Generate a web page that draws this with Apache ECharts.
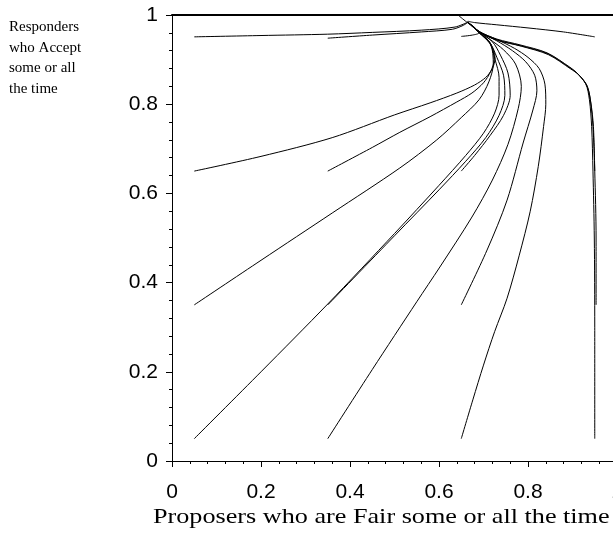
<!DOCTYPE html>
<html>
<head>
  <meta charset="utf-8">
  <title>phase</title>
  <script type="text/javascript" src="https://cdn.jsdelivr.net/npm/echarts@6/dist/echarts.min.js"></script>
  <style>
    body { margin: 0; background: #fff; }
  </style>
</head>
<body>
<div id="chartmain" style="width:613px; height:542px;"></div>
<script type="text/javascript">
  // trajectories, named by start point [fair, accept]
  var fromA05_05 = [[0.05,0.05],[0.2,0.2],[0.35,0.352],[0.5,0.51],[0.6,0.618],[0.66,0.685],[0.7,0.735],[0.725,0.78],[0.735,0.82],[0.735,0.86],[0.726,0.9],[0.715,0.935],[0.69,0.96],[0.665,0.984]];
  var fromA05_35 = [[0.05,0.35],[0.2,0.45],[0.36,0.556],[0.512,0.657],[0.595,0.72],[0.65,0.77],[0.69,0.81],[0.712,0.85],[0.722,0.89],[0.716,0.935],[0.69,0.961],[0.665,0.984]];
  var fromA05_65 = [[0.05,0.65],[0.2,0.683],[0.36,0.725],[0.5,0.776],[0.58,0.803],[0.64,0.825],[0.68,0.843],[0.705,0.86],[0.72,0.88],[0.726,0.903],[0.715,0.937],[0.69,0.961],[0.665,0.984]];
  var fromA05_95 = [[0.05,0.951],[0.2,0.954],[0.35,0.957],[0.45,0.961],[0.56,0.966],[0.636,0.973],[0.665,0.984]];

  var fromA35_05 = [[0.35,0.05],[0.45,0.205],[0.55,0.357],[0.602,0.435],[0.674,0.547],[0.72,0.63],[0.755,0.71],[0.778,0.79],[0.785,0.84],[0.772,0.89],[0.745,0.922],[0.715,0.945],[0.69,0.963],[0.665,0.984]];
  var fromA35_35 = [[0.35,0.35],[0.5,0.505],[0.6,0.608],[0.66,0.672],[0.705,0.725],[0.735,0.775],[0.748,0.82],[0.745,0.865],[0.73,0.905],[0.715,0.937],[0.69,0.961],[0.665,0.984]];
  var fromA35_65 = [[0.35,0.65],[0.45,0.703],[0.512,0.737],[0.58,0.772],[0.64,0.805],[0.674,0.825],[0.7,0.848],[0.716,0.873],[0.724,0.9],[0.715,0.937],[0.69,0.961],[0.665,0.984]];
  var fromA35_95 = [[0.35,0.948],[0.45,0.955],[0.56,0.962],[0.63,0.968],[0.655,0.977],[0.665,0.984]];

  var fromA65_05 = [[0.65,0.05],[0.676,0.137],[0.7,0.215],[0.725,0.29],[0.753,0.365],[0.78,0.46],[0.805,0.56],[0.823,0.66],[0.835,0.75],[0.84,0.8],[0.838,0.845],[0.825,0.88],[0.8,0.905],[0.77,0.925],[0.73,0.945],[0.69,0.963],[0.665,0.984]];
  var fromA65_35 = [[0.65,0.35],[0.708,0.473],[0.753,0.585],[0.789,0.713],[0.811,0.787],[0.82,0.83],[0.815,0.865],[0.795,0.895],[0.765,0.92],[0.73,0.942],[0.69,0.963],[0.665,0.984]];
  var fromA65_65 = [[0.65,0.65],[0.68,0.685],[0.715,0.73],[0.745,0.775],[0.76,0.82],[0.755,0.87],[0.738,0.91],[0.72,0.94],[0.69,0.962],[0.665,0.984]];
  var fromA65_95 = [[0.65,0.952],[0.675,0.955],[0.69,0.96],[0.68,0.972],[0.665,0.984]];

  var fromA95_05 = [[0.95,0.05],[0.95,0.3],[0.949,0.5],[0.946,0.65],[0.943,0.75],[0.938,0.81],[0.93,0.845],[0.91,0.87],[0.894,0.883],[0.843,0.915],[0.782,0.933],[0.73,0.946],[0.692,0.962],[0.665,0.982],[0.645,0.998]];
  var fromA95_35 = [[0.953,0.35],[0.953,0.5],[0.95,0.65],[0.946,0.75],[0.94,0.81],[0.932,0.843],[0.912,0.868],[0.895,0.881],[0.845,0.913],[0.784,0.931],[0.731,0.944],[0.693,0.961],[0.665,0.984]];
  var fromA95_65 = [[0.95,0.65],[0.947,0.75],[0.941,0.805],[0.933,0.84],[0.914,0.866],[0.896,0.879],[0.846,0.911],[0.785,0.93],[0.732,0.943],[0.694,0.96],[0.665,0.984]];
  var fromA95_95 = [[0.95,0.951],[0.88,0.962],[0.8,0.971],[0.73,0.978],[0.68,0.983],[0.665,0.986]];

  var trajectories = [
    fromA05_05, fromA05_35, fromA05_65, fromA05_95,
    fromA35_05, fromA35_35, fromA35_65, fromA35_95,
    fromA65_05, fromA65_35, fromA65_65, fromA65_95,
    fromA95_05, fromA95_35, fromA95_65, fromA95_95
  ];

  var yTitle = ['Responders', 'who Accept', 'some or all', 'the time'];
  var xTitle = 'Proposers who are Fair some or all the time';

  var tickFont = { fontFamily: 'Liberation Sans', fontSize: 21, color: '#000' };

  var series = [];
  for (var i = 0; i < trajectories.length; i++) {
    series.push({
      type: 'line',
      data: trajectories[i],
      symbol: 'none',
      smooth: 0.3,
      silent: true,
      lineStyle: { color: '#000', width: 1 }
    });
  }

  var option = {
    animation: false,
    grid: { left: 172, top: 15, width: 445, height: 446, outerBoundsMode: 'none' },
    xAxis: [{
      type: 'value',
      min: 0, max: 1, interval: 0.2,
      position: 'bottom',
      axisLine: { lineStyle: { color: '#000', width: 1 } },
      axisTick: { length: 6, lineStyle: { color: '#000' } },
      minorTick: { show: true, splitNumber: 5, length: 3, lineStyle: { color: '#000' } },
      splitLine: { show: false },
      axisLabel: Object.assign({ margin: 21 }, tickFont)
    }, {
      type: 'value',
      min: 0, max: 1,
      position: 'top',
      axisLine: { lineStyle: { color: '#000', width: 2 } },
      axisTick: { show: false },
      axisLabel: { show: false },
      splitLine: { show: false }
    }],
    yAxis: {
      type: 'value',
      min: 0, max: 1, interval: 0.2,
      axisLine: { show: true, lineStyle: { color: '#000', width: 1 } },
      axisTick: { show: true, length: 6, lineStyle: { color: '#000' } },
      minorTick: { show: true, splitNumber: 5, length: 3, lineStyle: { color: '#000' } },
      splitLine: { show: false },
      axisLabel: Object.assign({ margin: 14 }, tickFont)
    },
    graphic: [{
      type: 'text',
      left: 9,
      top: 17,
      style: {
        text: yTitle.join('\n'),
        font: '15px "Liberation Serif"',
        lineHeight: 20.5,
        fill: '#000'
      }
    }, {
      type: 'text',
      x: 153,
      y: 517,
      scaleX: 1.19,
      style: {
        text: xTitle,
        font: '22px "Liberation Serif"',
        align: 'left',
        verticalAlign: 'middle',
        fill: '#000'
      }
    }],
    series: series
  };

  var myChart = echarts.init(document.getElementById('chartmain'));
  myChart.setOption(option);
</script>
</body>
</html>
